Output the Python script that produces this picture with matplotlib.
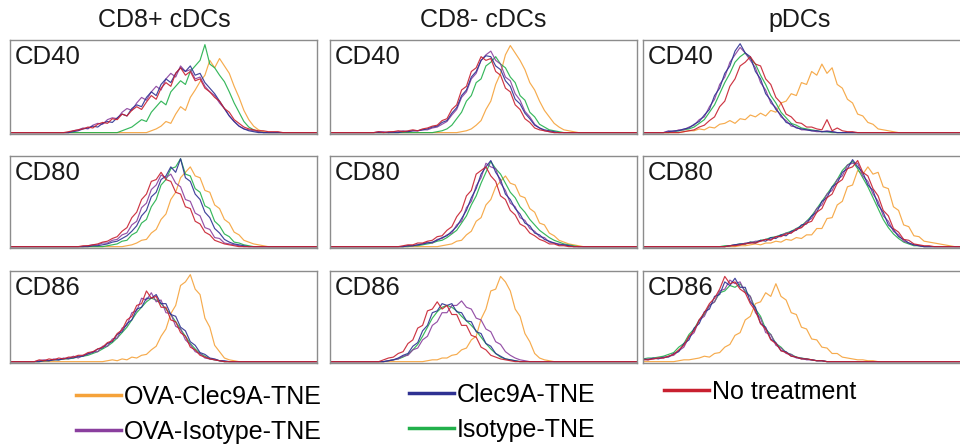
import numpy as np
import matplotlib
matplotlib.use("Agg")
import matplotlib.pyplot as plt

plt.rcParams['font.family'] = ['Liberation Sans', 'DejaVu Sans']

# ====== series, colours ======
series = ["OVA-Clec9A-TNE", "OVA-Isotype-TNE", "Clec9A-TNE", "Isotype-TNE", "No treatment"]
colors = {"OVA-Clec9A-TNE": "#F5A23A", "OVA-Isotype-TNE": "#8A3F9E",
          "Clec9A-TNE": "#2E3192", "Isotype-TNE": "#22B04B", "No treatment": "#C8202F"}
draw_order = ["OVA-Clec9A-TNE", "Isotype-TNE", "OVA-Isotype-TNE", "Clec9A-TNE", "No treatment"]

cell_types = ["CD8+ cDCs", "CD8- cDCs", "pDCs"]
markers = ["CD40", "CD80", "CD86"]
n_channels = 64

# ====== histogram counts (% of mode): (first channel, counts) ======
cd40_cd8pos = {
    "OVA-Clec9A-TNE": (29, [2, 4, 7, 12, 10, 20, 28, 24, 38, 46, 55, 62, 78, 70, 80, 72, 64, 50, 38, 24, 14, 7, 3, 1]),
    "Isotype-TNE": (23, [2, 4, 6, 10, 14, 12, 22, 28, 34, 30, 44, 50, 56, 52, 66, 72, 78, 95, 74, 70, 62, 55, 44, 32, 22, 12, 6, 3, 1]),
    "No treatment": (12, [1, 2, 3, 4, 6, 5, 9, 11, 10, 15, 14, 20, 18, 24, 28, 25, 33, 40, 36, 48, 54, 50, 64, 70, 62, 66, 56, 58, 48, 44, 38, 34, 26, 22, 14, 10, 6, 4, 3, 2, 2, 1, 1, 1]),
    "OVA-Isotype-TNE": (13, [2, 3, 5, 4, 8, 10, 9, 14, 16, 15, 22, 26, 24, 32, 38, 35, 44, 50, 46, 58, 64, 60, 72, 66, 68, 58, 60, 50, 44, 40, 32, 26, 18, 12, 7, 4, 3, 2, 1]),
    "Clec9A-TNE": (13, [1, 2, 4, 5, 7, 6, 10, 12, 11, 16, 20, 18, 26, 30, 28, 38, 44, 40, 52, 58, 54, 64, 70, 66, 72, 62, 64, 54, 48, 42, 34, 26, 18, 12, 7, 4, 2, 1]),
}
cd40_cd8neg = {
    "OVA-Clec9A-TNE": (27, [1, 2, 4, 8, 13, 25, 34, 52, 64, 84, 94, 86, 78, 68, 54, 46, 34, 24, 17, 10, 6, 3, 2, 1]),
    "Isotype-TNE": (22, [1, 2, 4, 8, 15, 22, 34, 40, 54, 58, 72, 76, 82, 74, 70, 60, 54, 40, 35, 22, 17, 9, 6, 3, 2, 1]),
    "OVA-Isotype-TNE": (10, [1, 1, 0, 1, 1, 2, 1, 2, 2, 3, 3, 5, 6, 9, 12, 19, 25, 38, 44, 58, 64, 78, 84, 88, 78, 74, 60, 56, 42, 35, 23, 17, 9, 5, 2, 1]),
    "No treatment": (10, [1, 0, 1, 1, 2, 1, 2, 3, 2, 4, 5, 7, 8, 13, 15, 25, 30, 46, 50, 66, 70, 82, 78, 80, 66, 62, 48, 44, 30, 25, 15, 11, 5, 3, 2, 1]),
    "Clec9A-TNE": (15, [1, 1, 2, 2, 3, 4, 6, 7, 11, 13, 21, 27, 40, 46, 60, 66, 78, 83, 82, 72, 68, 56, 50, 36, 31, 21, 15, 8, 5, 3, 2, 1]),
}
cd40_pdc = {
    "OVA-Clec9A-TNE": (8, [1, 2, 2, 4, 3, 6, 5, 9, 10, 13, 10, 15, 14, 19, 17, 21, 18, 24, 22, 32, 34, 42, 40, 54, 52, 66, 62, 74, 64, 70, 52, 48, 36, 32, 20, 18, 11, 9, 4, 3, 2, 1]),
    "Isotype-TNE": (6, [1, 2, 3, 4, 6, 10, 14, 22, 30, 42, 54, 64, 76, 82, 86, 80, 74, 62, 52, 40, 32, 22, 16, 10, 8, 5, 4, 3, 2, 1, 1]),
    "OVA-Isotype-TNE": (5, [2, 1, 3, 3, 6, 8, 14, 17, 28, 36, 52, 60, 76, 84, 92, 86, 78, 70, 54, 46, 32, 27, 17, 13, 7, 6, 3, 3, 2, 1, 1, 2, 1]),
    "Clec9A-TNE": (5, [1, 2, 2, 4, 5, 9, 12, 19, 25, 40, 48, 64, 72, 88, 96, 86, 82, 66, 58, 42, 35, 25, 19, 11, 9, 5, 4, 3, 2, 2, 1, 1, 1]),
    "No treatment": (8, [1, 2, 3, 6, 8, 13, 17, 28, 34, 50, 58, 72, 76, 82, 74, 72, 58, 52, 38, 32, 20, 17, 11, 10, 6, 6, 4, 3, 14, 2, 5, 2, 1, 1]),
}
cd80_cd8pos = {
    "OVA-Clec9A-TNE": (24, [1, 2, 4, 7, 8, 15, 19, 30, 36, 52, 60, 76, 82, 88, 78, 76, 62, 60, 46, 42, 30, 26, 16, 13, 7, 5, 3, 2, 1]),
    "Isotype-TNE": (20, [1, 2, 3, 6, 7, 13, 16, 26, 30, 44, 52, 68, 74, 86, 88, 97, 80, 78, 64, 60, 45, 42, 28, 23, 14, 11, 5, 4, 2, 1]),
    "OVA-Isotype-TNE": (16, [1, 2, 2, 4, 4, 7, 8, 13, 15, 24, 28, 43, 48, 63, 68, 79, 76, 80, 70, 66, 52, 50, 37, 34, 21, 19, 10, 9, 4, 3, 2, 1]),
    "No treatment": (15, [1, 1, 2, 3, 5, 6, 9, 11, 17, 21, 32, 38, 52, 58, 72, 74, 82, 74, 72, 60, 58, 44, 42, 28, 25, 16, 13, 7, 5, 3, 2, 1]),
    "Clec9A-TNE": (17, [1, 1, 2, 3, 5, 6, 9, 12, 17, 23, 34, 40, 55, 60, 74, 78, 88, 82, 97, 76, 72, 58, 52, 38, 32, 20, 15, 8, 5, 3, 2, 1]),
}
cd80_cd8neg = {
    "OVA-Clec9A-TNE": (23, [1, 2, 3, 6, 7, 13, 17, 28, 32, 46, 52, 66, 72, 78, 70, 68, 56, 54, 42, 38, 26, 24, 15, 12, 7, 5, 3, 2, 1]),
    "Isotype-TNE": (17, [1, 1, 2, 3, 4, 6, 7, 10, 14, 18, 26, 34, 46, 56, 70, 82, 94, 86, 80, 70, 60, 54, 44, 38, 30, 24, 18, 14, 10, 7, 5, 3, 2, 1]),
    "OVA-Isotype-TNE": (16, [1, 1, 2, 3, 5, 4, 8, 9, 13, 15, 24, 28, 43, 50, 67, 76, 92, 88, 86, 70, 62, 48, 44, 32, 29, 20, 17, 11, 10, 5, 4, 3, 2, 1]),
    "No treatment": (15, [1, 2, 2, 4, 4, 6, 7, 11, 12, 18, 22, 33, 40, 56, 62, 80, 84, 88, 78, 72, 56, 52, 40, 35, 25, 22, 15, 12, 8, 6, 3, 3, 1, 1]),
    "Clec9A-TNE": (16, [1, 1, 2, 3, 4, 5, 7, 10, 12, 17, 22, 31, 40, 54, 64, 80, 88, 95, 82, 74, 58, 52, 42, 36, 26, 23, 15, 13, 8, 6, 4, 2, 2, 1]),
}
cd80_pdc = {
    "OVA-Clec9A-TNE": (19, [1, 1, 2, 3, 2, 4, 4, 6, 5, 8, 7, 10, 9, 13, 13, 20, 20, 31, 32, 46, 50, 66, 68, 84, 80, 88, 80, 82, 66, 64, 44, 40, 24, 22, 12, 11, 6, 5, 4, 3, 2, 1]),
    "Isotype-TNE": (16, [1, 1, 2, 3, 3, 5, 5, 7, 8, 10, 11, 13, 15, 17, 20, 23, 28, 34, 42, 50, 58, 66, 74, 84, 90, 94, 86, 76, 66, 54, 42, 30, 21, 14, 9, 5, 3, 1, 1]),
    "OVA-Isotype-TNE": (17, [1, 2, 2, 4, 4, 6, 6, 8, 8, 11, 12, 15, 15, 20, 21, 28, 31, 42, 46, 58, 62, 74, 78, 90, 92, 92, 78, 72, 58, 50, 34, 28, 17, 13, 6, 4, 2, 1]),
    "Clec9A-TNE": (17, [1, 2, 3, 3, 5, 4, 7, 6, 10, 9, 13, 12, 17, 18, 24, 25, 34, 38, 50, 54, 66, 70, 82, 86, 96, 88, 82, 68, 62, 46, 38, 24, 19, 11, 8, 4, 2, 1]),
    "No treatment": (17, [1, 1, 2, 3, 4, 4, 6, 8, 7, 11, 11, 14, 15, 19, 21, 26, 28, 38, 42, 54, 58, 70, 74, 86, 88, 95, 82, 78, 64, 56, 40, 34, 20, 16, 8, 7, 3, 2, 1, 1]),
}
cd86_cd8pos = {
    "OVA-Clec9A-TNE": (20, [1, 2, 1, 3, 2, 5, 4, 7, 8, 13, 17, 28, 36, 53, 62, 84, 88, 96, 80, 74, 48, 38, 18, 11, 4, 2, 1]),
    "Isotype-TNE": (7, [1, 1, 2, 2, 3, 3, 4, 5, 6, 7, 9, 11, 14, 17, 21, 26, 32, 38, 46, 54, 60, 66, 70, 68, 64, 58, 52, 44, 36, 28, 20, 14, 9, 6, 3, 2, 1]),
    "OVA-Isotype-TNE": (6, [1, 2, 1, 3, 2, 4, 3, 6, 4, 7, 8, 11, 11, 17, 17, 25, 26, 37, 40, 54, 56, 70, 68, 76, 66, 68, 54, 53, 39, 36, 24, 19, 11, 9, 4, 3, 2, 1]),
    "Clec9A-TNE": (7, [1, 1, 2, 2, 3, 4, 4, 6, 6, 9, 10, 14, 15, 20, 22, 30, 33, 42, 46, 58, 60, 70, 70, 74, 64, 64, 52, 50, 38, 34, 22, 18, 10, 8, 4, 3, 1, 1]),
    "No treatment": (6, [2, 1, 3, 2, 4, 3, 5, 5, 7, 7, 10, 11, 14, 16, 21, 23, 31, 35, 46, 50, 62, 64, 78, 70, 72, 60, 60, 46, 44, 32, 28, 16, 13, 7, 5, 3, 2, 1]),
}
cd86_cd8neg = {
    "OVA-Clec9A-TNE": (20, [1, 2, 2, 4, 4, 7, 8, 13, 15, 24, 28, 47, 58, 78, 80, 94, 88, 78, 58, 50, 31, 22, 9, 4, 2, 1]),
    "Isotype-TNE": (12, [1, 2, 3, 5, 8, 13, 19, 28, 38, 48, 55, 60, 62, 60, 56, 50, 45, 40, 34, 27, 20, 14, 9, 5, 3, 2, 1]),
    "OVA-Isotype-TNE": (12, [1, 2, 3, 6, 7, 13, 15, 24, 28, 40, 44, 54, 54, 62, 62, 67, 60, 58, 48, 46, 36, 33, 22, 19, 11, 7, 4, 2, 1]),
    "Clec9A-TNE": (12, [1, 2, 4, 7, 9, 17, 21, 34, 40, 54, 56, 64, 62, 64, 55, 54, 45, 44, 33, 31, 20, 17, 9, 6, 3, 2, 1]),
    "No treatment": (11, [2, 4, 5, 9, 11, 20, 24, 37, 40, 56, 58, 66, 58, 62, 52, 52, 40, 40, 29, 27, 16, 13, 7, 5, 3, 2, 1]),
}
cd86_pdc = {
    "OVA-Clec9A-TNE": (7, [1, 2, 2, 3, 4, 6, 5, 9, 10, 16, 19, 29, 32, 46, 50, 64, 66, 76, 72, 86, 72, 68, 54, 52, 38, 36, 25, 24, 16, 15, 9, 9, 5, 4, 3, 2, 2, 1, 1]),
    "Isotype-TNE": (0, [3, 4, 4, 5, 6, 8, 10, 16, 20, 30, 36, 46, 52, 62, 66, 76, 78, 84, 82, 86, 78, 72, 58, 50, 36, 30, 20, 16, 10, 8, 5, 4, 3, 2, 1, 1]),
    "OVA-Isotype-TNE": (0, [2, 3, 3, 4, 4, 6, 7, 12, 16, 27, 32, 46, 50, 62, 66, 78, 80, 90, 86, 88, 76, 72, 54, 48, 32, 30, 18, 15, 9, 8, 4, 4, 2, 2, 1, 1]),
    "Clec9A-TNE": (0, [3, 2, 4, 3, 5, 5, 9, 11, 20, 24, 37, 42, 55, 58, 72, 74, 88, 84, 92, 82, 82, 66, 60, 42, 38, 25, 21, 12, 11, 6, 5, 3, 3, 2, 1, 1]),
    "No treatment": (0, [2, 2, 3, 4, 4, 6, 8, 13, 18, 28, 34, 46, 54, 64, 70, 80, 94, 86, 88, 80, 76, 64, 56, 42, 36, 24, 20, 12, 10, 6, 5, 3, 3, 2, 1, 1]),
}

panels = [[cd40_cd8pos, cd40_cd8neg, cd40_pdc],
          [cd80_cd8pos, cd80_cd8neg, cd80_pdc],
          [cd86_cd8pos, cd86_cd8neg, cd86_pdc]]

# ====== layout (pixels) ======
W, H = 960, 448
col_px = [(10, 307), (330, 307), (643, 322)]
row_px = [(40, 94), (156, 92), (271, 92)]


def full_counts(start, vals):
    arr = np.zeros(n_channels)
    arr[start:start + len(vals)] = vals
    return arr


fig = plt.figure(figsize=(W / 100, H / 100), dpi=100)
x = np.linspace(0, 1, n_channels)

for r, (top, h) in enumerate(row_px):
    for c, (left, w) in enumerate(col_px):
        ax = fig.add_axes([left / W, 1 - (top + h) / H, w / W, h / H])
        data = panels[r][c]
        for name in draw_order:
            start, vals = data[name]
            ax.plot(x, full_counts(start, vals), color=colors[name], lw=0.85, alpha=0.9)
        ax.set_xlim(0, 1)
        ax.set_ylim(-1.5, 100)
        ax.set_xticks([])
        ax.set_yticks([])
        for sp in ax.spines.values():
            sp.set_color("#8c8c8c")
            sp.set_linewidth(1.0)
        if c == 2:
            ax.spines['right'].set_visible(False)
        ax.text(0.016, 0.82, markers[r], transform=ax.transAxes, fontsize=18.5,
                va='center', ha='left', color='#1a1a1a')

title_x = [164, 483, 800]
for c, name in enumerate(cell_types):
    fig.text(title_x[c] / W, 1 - 20 / H, name, fontsize=18, ha='center', va='center', color='#1a1a1a')

# ====== legend, three columns ======
legend_cols = [(["OVA-Clec9A-TNE", "OVA-Isotype-TNE"], 76, 385),
               (["Clec9A-TNE", "Isotype-TNE"], 409, 383),
               (["No treatment"], 664, 380)]
for names, lx, ly in legend_cols:
    hs = [plt.Line2D([], [], color=colors[n], lw=2.5) for n in names]
    fig.legend(hs, names, loc='upper left', bbox_to_anchor=(lx / W, 1 - ly / H),
               frameon=False, fontsize=18, handlelength=1.8, handletextpad=0.12,
               labelspacing=0.42, borderaxespad=0, borderpad=0)

fig.savefig("out.png", dpi=100)
